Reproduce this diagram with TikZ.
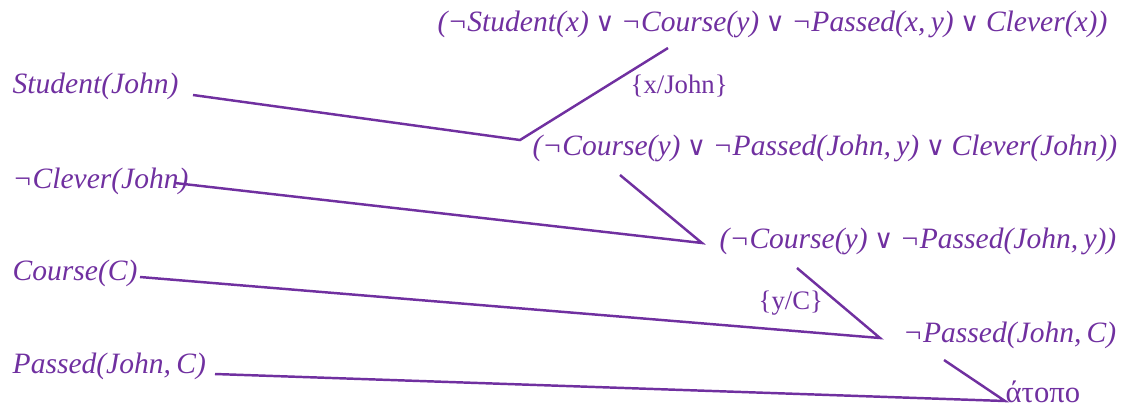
\documentclass[tikz,border=0pt]{standalone}
\usepackage{fontspec}
\setmainfont{Liberation Serif}
\newfontfamily\symf{DejaVu Serif}
\newfontfamily\itf{Liberation Serif Italic}
\newcommand\OR{\hspace{0.22em}{\symf\fontsize{7.5}{9}\selectfont ∨}\hspace{0.22em}}
\newcommand\cm{,\hspace{0.18em}}
\definecolor{pur}{HTML}{7030A0}
\begin{document}
\begin{tikzpicture}[x=0.01cm,y=-0.01cm,
  lit/.style={anchor=base west,inner sep=0pt,text=pur,font=\itf\fontsize{8.4}{10}\selectfont},
  litr/.style={lit,anchor=base east},
  sub/.style={anchor=base west,inner sep=0pt,text=pur,font=\fontsize{7.6}{10}\selectfont},
  edge/.style={draw=pur,line width=0.7pt}]
\useasboundingbox (0,0) rectangle (1126,408);
\node[lit] (c0) at (437,31) {(¬Student(x)\OR¬Course(y)\OR¬Passed(x\cm y)\OR Clever(x))};
\node[lit] (s) at (12,93) {Student(John)};
\node[sub] (u1) at (630,93) {\{x/John\}};
\node[litr] (c1) at (1118,155) {(¬Course(y)\OR¬Passed(John\cm y)\OR Clever(John))};
\node[lit] (nc) at (12,188) {¬Clever(John)};
\node[litr] (c2) at (1117,248) {(¬Course(y)\OR¬Passed(John\cm y))};
\node[lit] (co) at (12,280) {Course(C)};
\node[sub] (u2) at (758,309) {\{y/C\}};
\node[litr] (c3) at (1117,342) {¬Passed(John\cm C)};
\node[lit] (p) at (12,373) {Passed(John\cm C)};
\node[sub,font=\fontsize{8.7}{10}\selectfont] (e) at (1005,402) {άτοπο};
\coordinate (a1) at (193,95);  \coordinate (j1) at (520,140); \coordinate (b1) at (668,48);
\coordinate (a2) at (175,183); \coordinate (j2) at (702,243); \coordinate (b2) at (620,175);
\coordinate (a3) at (140,277); \coordinate (j3) at (880,338); \coordinate (b3) at (797,268);
\coordinate (a4) at (215,374); \coordinate (j4) at (1005,401); \coordinate (b4) at (944,360);
\draw[edge] (a1) -- (j1) -- (b1);
\draw[edge] (a2) -- (j2) -- (b2);
\draw[edge] (a3) -- (j3) -- (b3);
\draw[edge] (a4) -- (j4) -- (b4);
\end{tikzpicture}
\end{document}
